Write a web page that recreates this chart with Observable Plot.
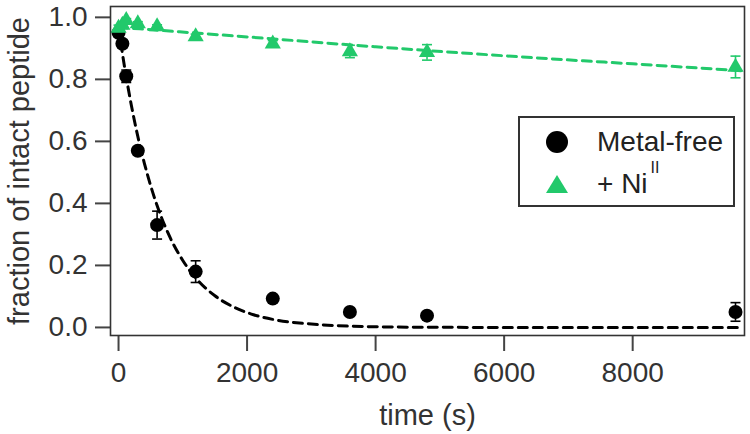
<!DOCTYPE html>
<html>
<head>
<meta charset="utf-8">
<script src="https://cdn.jsdelivr.net/npm/d3@7"></script>
<script src="https://cdn.jsdelivr.net/npm/@observablehq/plot@0.6"></script>
<style>
  html, body { margin: 0; padding: 0; background: #fff; }
  #wrap { position: relative; width: 750px; height: 434px; font-family: "Liberation Sans", Arial, sans-serif; }
  #legend { position: absolute; left: 0; top: 0; pointer-events: none; }
  #wrap svg g[aria-label="x-axis tick"] path, #wrap svg g[aria-label="y-axis tick"] path { stroke: #444; stroke-width: 2; }
</style>
</head>
<body>
<div id="wrap"></div>
<script>
// Data
const metalTime  = [0, 60, 120, 300, 600, 1200, 2400, 3600, 4800, 9600];
const metalValue = [0.95, 0.915, 0.81, 0.57, 0.33, 0.18, 0.093, 0.05, 0.038, 0.05];
const metalError = [0.01, 0.012, 0.02, 0.012, 0.045, 0.035, 0.006, 0.006, 0.012, 0.03];

const niTime  = [0, 60, 120, 300, 600, 1200, 2400, 3600, 4800, 9600];
const niValue = [0.965, 0.975, 0.99, 0.98, 0.97, 0.938, 0.915, 0.89, 0.887, 0.84];
const niError = [0.01, 0.01, 0.006, 0.006, 0.006, 0.008, 0.01, 0.02, 0.025, 0.035];

// Fitted (dashed) curves
const metalFitTime = [0, 100, 200, 300, 400, 500, 600, 800, 1000, 1200, 1500, 1800, 2100, 2400, 3000, 3600, 4500, 6000, 8000, 9700];
const metalFitValue = [0.967, 0.832, 0.716, 0.616, 0.531, 0.457, 0.393, 0.291, 0.216, 0.160, 0.102, 0.065, 0.041, 0.026, 0.011, 0.004, 0.001, 0, 0, 0];
const niFitTime = [0, 2000, 4000, 6000, 8000, 9700];
const niFitValue = [0.968, 0.937, 0.905, 0.876, 0.85, 0.828];

const xTicks = [0, 2000, 4000, 6000, 8000];
const yTicks = [0, 0.2, 0.4, 0.6, 0.8, 1.0];

const seriesNames = ["Metal-free", "+ Ni"];
const colors = { metal: "#000000", ni: "#22c96b" };

const metal = metalTime.map((t, i) => ({ t, v: metalValue[i], e: metalError[i] }));
const ni = niTime.map((t, i) => ({ t, v: niValue[i], e: niError[i] }));
const metalFit = metalFitTime.map((t, i) => ({ t, v: metalFitValue[i] }));
const niFit = niFitTime.map((t, i) => ({ t, v: niFitValue[i] }));

const cap = { draw(ctx) { ctx.moveTo(-5, 0); ctx.lineTo(5, 0); } };

function errorMarks(data, color) {
  return [
    Plot.ruleX(data, { x: "t", y1: d => d.v - d.e, y2: d => d.v + d.e, stroke: color, strokeWidth: 1.6 }),
    Plot.dot(data, { x: "t", y: d => d.v + d.e, symbol: cap, stroke: color, fill: "none", strokeWidth: 1.6 }),
    Plot.dot(data, { x: "t", y: d => d.v - d.e, symbol: cap, stroke: color, fill: "none", strokeWidth: 1.6 })
  ];
}

const chart = Plot.plot({
  width: 750,
  height: 434,
  marginLeft: 110,
  marginRight: 6,
  marginTop: 6,
  marginBottom: 99,
  style: { fontFamily: "Liberation Sans, Arial, sans-serif", fontSize: "28px", color: "#333", background: "#fff", overflow: "visible" },
  x: { domain: [-125, 9740] },
  y: { domain: [-0.026, 1.035] },
  marks: [
    Plot.axisX({ ticks: xTicks, tickSize: 16, tickPadding: 11, tickFormat: d3.format("d"), fontSize: 28, label: null }),
    Plot.axisY({ ticks: yTicks, tickSize: 15, tickPadding: 8, tickFormat: d3.format(".1f"), fontSize: 28, label: null }),
    Plot.text(["time (s)"], { frameAnchor: "bottom", dy: 80, textAnchor: "middle", lineAnchor: "middle", fontSize: 29, fill: "#333" }),
    Plot.text(["fraction of intact peptide"], { frameAnchor: "left", dx: -91, rotate: -90, textAnchor: "middle", lineAnchor: "middle", fontSize: 29, fill: "#333" }),
    Plot.line(metalFit, { x: "t", y: "v", stroke: colors.metal, strokeWidth: 3, strokeDasharray: "9,6", curve: "monotone-x" }),
    ...errorMarks(metal, colors.metal),
    Plot.dot(metal, { x: "t", y: "v", r: 7, fill: colors.metal, stroke: "none" }),
    Plot.line(niFit, { x: "t", y: "v", stroke: colors.ni, strokeWidth: 3, strokeDasharray: "9,6", curve: "monotone-x" }),
    ...errorMarks(ni, colors.ni),
    Plot.dot(ni, { x: "t", y: "v", r: 6, symbol: "triangle", fill: colors.ni, stroke: "none" }),
    Plot.frame({ stroke: "#333", strokeWidth: 1.6 })
  ]
});

const wrap = document.getElementById("wrap");
wrap.appendChild(chart);

// Legend overlay
const ns = "http://www.w3.org/2000/svg";
const leg = document.createElementNS(ns, "svg");
leg.setAttribute("id", "legend");
leg.setAttribute("width", 750);
leg.setAttribute("height", 434);
leg.innerHTML = `
  <rect x="519" y="117" width="215" height="89" fill="#fff" stroke="#333" stroke-width="2"/>
  <circle cx="557" cy="142" r="11" fill="${colors.metal}"/>
  <path d="M546,193 L568,193 L557,175 Z" fill="${colors.ni}"/>
  <text x="597" y="151" font-size="28" fill="#222" font-family="Liberation Sans, Arial, sans-serif">${seriesNames[0]}</text>
  <text x="597" y="193" font-size="28" fill="#222" font-family="Liberation Sans, Arial, sans-serif">${seriesNames[1]}<tspan font-size="16" dx="3" dy="-20">II</tspan></text>
`;
wrap.appendChild(leg);
</script>
</body>
</html>
